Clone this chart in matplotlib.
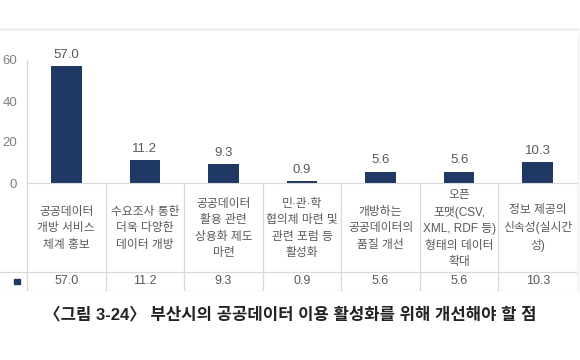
import matplotlib
matplotlib.use("Agg")
import matplotlib.pyplot as plt
from matplotlib.lines import Line2D
from matplotlib.patches import Rectangle

plt.rcParams['font.family'] = ['Liberation Sans', 'Noto Sans CJK KR']

categories = [
    "공공데이터\n개방 서비스\n체계 홍보",
    "수요조사 통한\n더욱 다양한\n데이터 개방",
    "공공데이터\n활용 관련\n상용화 제도\n마련",
    "민·관·학\n협의체 마련 및\n관련 포럼 등\n활성화",
    "개방하는\n공공데이터의\n품질 개선",
    "오픈\n포맷(CSV,\nXML, RDF 등)\n형태의 데이터\n확대",
    "정보 제공의\n신속성(실시간\n성)",
]
values = [57.0, 11.2, 9.3, 0.9, 5.6, 5.6, 10.3]
yticks = [0, 20, 40, 60]
caption = "〈그림 3-24〉 부산시의 공공데이터 이용 활성화를 위해 개선해야 할 점"

W, H = 580, 360
bar_color = "#1f3864"
text_color = "#595959"
line_color = "#d9d9d9"

fig = plt.figure(figsize=(W / 100, H / 100), dpi=100)

# pixel geometry
x0, x1 = 27, 577          # plot area left / right
y_top, y_zero = 60, 183   # y=60 and y=0 positions
tbl_mid, tbl_bot = 272, 291
n = len(values)
cw = (x1 - x0) / n


def fx(px):
    return px / W


def fy(py):
    return 1 - py / H


# bar chart
ax = fig.add_axes([fx(x0), fy(y_zero), fx(x1) - fx(x0), fy(y_top) - fy(y_zero)])
xs = list(range(n))
ax.bar(xs, values, width=0.39, color=bar_color)
for x, v in zip(xs, values):
    ax.text(x, v + 2.5, f"{v:.1f}", ha="center", va="bottom", fontsize=9.5, color=text_color)
ax.set_xlim(-0.5, n - 0.5)
ax.set_ylim(0, 60)
ax.set_yticks(yticks)
ax.set_yticklabels([str(t) for t in yticks], fontsize=9.5, color="#7f7f7f")
ax.tick_params(axis="y", length=0, pad=7)
ax.set_xticks([])
for s in ["top", "right"]:
    ax.spines[s].set_visible(False)
ax.spines["left"].set_color(line_color)
ax.spines["bottom"].set_color(line_color)

# data table under the chart
left_units = x0 / cw
tax = fig.add_axes([0, fy(tbl_bot), fx(x1), fy(y_zero) - fy(tbl_bot)])
tax.set_xlim(-0.5 - left_units, n - 0.5)
tax.set_ylim(tbl_bot - y_zero, 0)
tax.axis("off")
mid = tbl_mid - y_zero
bot = tbl_bot - y_zero
for k in range(n + 1):
    tax.add_line(Line2D([k - 0.5, k - 0.5], [0, bot], color=line_color, lw=0.9))
tax.add_line(Line2D([-0.5 - left_units, n - 0.5], [mid, mid], color=line_color, lw=0.9))
tax.add_line(Line2D([-0.5 - left_units, n - 0.5], [bot, bot], color=line_color, lw=0.9))
for x, lab, v in zip(xs, categories, values):
    tax.text(x, mid / 2 + 1, lab, ha="center", va="center", fontsize=8.5,
             color=text_color, linespacing=1.5)
    tax.text(x, (mid + bot) / 2, f"{v:.1f}", ha="center", va="center",
             fontsize=9, color=text_color)
tax.add_patch(Rectangle((-0.5 - left_units * 0.47, (mid + bot) / 2 - 2.5), 0.07, 5,
                        color=bar_color))

# outer chart frame (top and right)
fig.add_artist(Line2D([0, fx(x1 + 1)], [fy(29), fy(29)], color="#e3e3e3", lw=1.0))
fig.add_artist(Line2D([fx(x1 + 1), fx(x1 + 1)], [fy(36), fy(tbl_bot)], color="#eeeeee", lw=1.0))

fig.text(0.5, fy(315), caption, ha="center", va="center", fontsize=12,
         fontweight="bold", color="#222222")

fig.savefig("out.png", dpi=100)
